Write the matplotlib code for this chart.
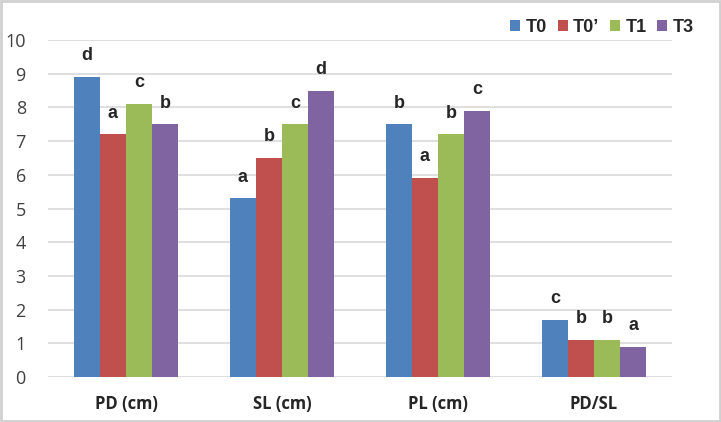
import matplotlib.pyplot as plt
import numpy as np
from matplotlib.patches import Rectangle

categories = ["PD (cm)", "SL (cm)", "PL (cm)", "PD/SL"]
series_names = ["T0", "T0\u2019", "T1", "T3"]
t0 = [8.9, 5.3, 7.5, 1.7]
t0p = [7.2, 6.5, 5.9, 1.1]
t1 = [8.1, 7.5, 7.2, 1.1]
t3 = [7.5, 8.5, 7.9, 0.9]
letters_t0 = ["d", "a", "b", "c"]
letters_t0p = ["a", "b", "a", "b"]
letters_t1 = ["c", "c", "b", "b"]
letters_t3 = ["b", "d", "c", "a"]

colors = ["#4F81BD", "#C0504D", "#9BBB59", "#8064A2"]
values = [t0, t0p, t1, t3]
letters = [letters_t0, letters_t0p, letters_t1, letters_t3]

fig = plt.figure(figsize=(7.21, 4.22), dpi=100)
ax = fig.add_axes([0.0666, 0.1066, 0.8654, 0.7984])

x = np.arange(len(categories))
w = 0.167
for i, (vals, labs) in enumerate(zip(values, letters)):
    pos = x + (i - 1.5) * w
    ax.bar(pos, vals, width=w, color=colors[i], label=series_names[i], zorder=3)
    for p, v, l in zip(pos, vals, labs):
        ax.text(p, v + 0.38, l, ha="center", va="bottom", fontsize=13,
                fontweight="bold", family="Liberation Sans", color="#262626")

ax.set_xlim(-0.5, 3.5)
ax.set_ylim(0, 10)
ax.set_yticks(range(0, 11))
ax.yaxis.grid(True, color="#D9D9D9", linewidth=1.2, zorder=0)
ax.set_axisbelow(True)
for s in ["top", "right", "left", "bottom"]:
    ax.spines[s].set_visible(False)
ax.tick_params(axis="both", length=0)
ax.tick_params(axis="y", labelsize=13, labelcolor="#404040", pad=16)
ax.set_xticks(x)
ax.set_xticklabels(categories, fontsize=12, fontweight="bold", color="#262626")
ax.tick_params(axis="x", pad=13)
for t in ax.get_yticklabels():
    t.set_family("Open Sans")
for t in ax.get_xticklabels():
    t.set_family("Open Sans")

leg = fig.legend(loc="upper right", bbox_to_anchor=(0.985, 0.993), ncol=4, frameon=False,
                 prop={"family": "Liberation Sans", "weight": "bold", "size": 13},
                 handlelength=0.55, handleheight=0.55, handletextpad=0.3, columnspacing=0.6)
for t in leg.get_texts():
    t.set_color("#262626")

fig.patches.append(Rectangle((0.002, 0.003), 0.996, 0.994, transform=fig.transFigure,
                             fill=False, edgecolor="#D0D0D0", linewidth=2))

fig.savefig("out.png", dpi=100)
